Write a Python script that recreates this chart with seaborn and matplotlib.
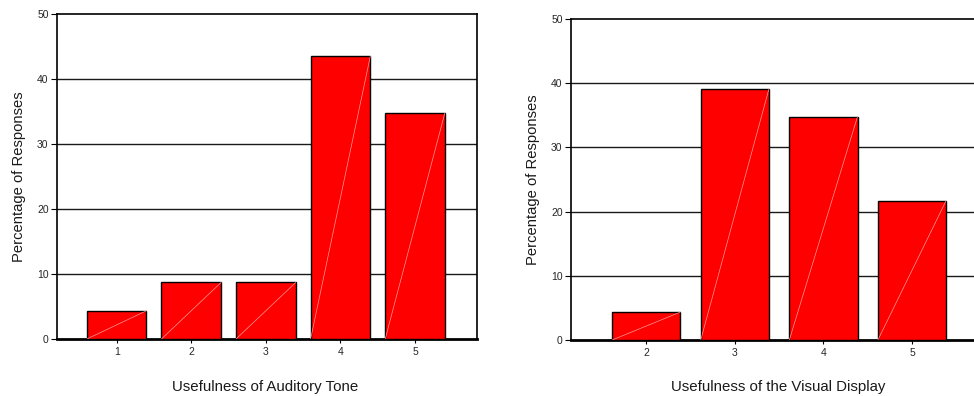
import matplotlib
matplotlib.use("Agg")
import matplotlib.pyplot as plt
import seaborn as sns
import pandas as pd

# data
tone_categories = ["1", "2", "3", "4", "5"]
tone_values = [4.35, 8.7, 8.7, 43.5, 34.8]
visual_categories = ["2", "3", "4", "5"]
visual_values = [4.35, 39.1, 34.8, 21.7]
y_ticks = [0, 10, 20, 30, 40, 50]
x_label_left = "Usefulness of Auditory Tone"
x_label_right = "Usefulness of the Visual Display"
y_label = "Percentage of Responses"

sns.set_theme(style="white")
plt.rcParams['font.family'] = ['Liberation Sans', 'DejaVu Sans']

fig = plt.figure(figsize=(9.74, 3.96), dpi=100)
ax1 = fig.add_axes([0.0585, 0.1439, 0.4312, 0.8207])
ax2 = fig.add_axes([0.5862, 0.1414, 0.4138, 0.8106])


def draw(ax, cats, vals, xlabel, width, xlim, right_spine=True):
    df = pd.DataFrame({"cat": cats, "val": vals})
    sns.barplot(data=df, x="cat", y="val", order=cats, color="#ff0000",
                saturation=1, width=width, edgecolor="black", linewidth=1.0,
                ax=ax, zorder=3)
    for p in ax.patches:
        x0 = p.get_x()
        w = p.get_width()
        h = p.get_height()
        ax.plot([x0, x0 + w], [0, h], color="#ff9a9a", lw=0.5, zorder=4)
    ax.set_ylim(0, 50)
    ax.set_xlim(*xlim)
    ax.set_yticks(y_ticks)
    ax.set_yticklabels([str(t) for t in y_ticks], fontsize=7.5)
    ax.tick_params(axis="x", labelsize=7.5, length=3, width=0.8, color="black",
                   bottom=True, direction="out", pad=3)
    ax.tick_params(axis="y", length=4, width=0.8, color="black", left=True,
                   direction="out", pad=2)
    for t in y_ticks[1:-1]:
        ax.axhline(t, color="#1a1a1a", lw=1.0, zorder=1)
    ax.set_xlabel(xlabel, fontsize=10.8, color="#1a1a1a")
    ax.set_ylabel(y_label, fontsize=10.6, labelpad=8, color="#1a1a1a")
    for s in ["left", "top", "right"]:
        ax.spines[s].set_color("black")
        ax.spines[s].set_linewidth(1.2)
    ax.spines["right"].set_visible(right_spine)
    ax.spines["bottom"].set_color("black")
    ax.spines["bottom"].set_linewidth(2.0)
    ax.set_facecolor("white")


draw(ax1, tone_categories, tone_values, x_label_left, 0.8, (-0.8, 4.83))
draw(ax2, visual_categories, visual_values, x_label_right, 0.77, (-0.85, 3.70), right_spine=False)
ax1.xaxis.set_label_coords(0.495, -0.126)
ax2.xaxis.set_label_coords(0.514, -0.126)

fig.savefig("out.png", dpi=100, facecolor="white")
